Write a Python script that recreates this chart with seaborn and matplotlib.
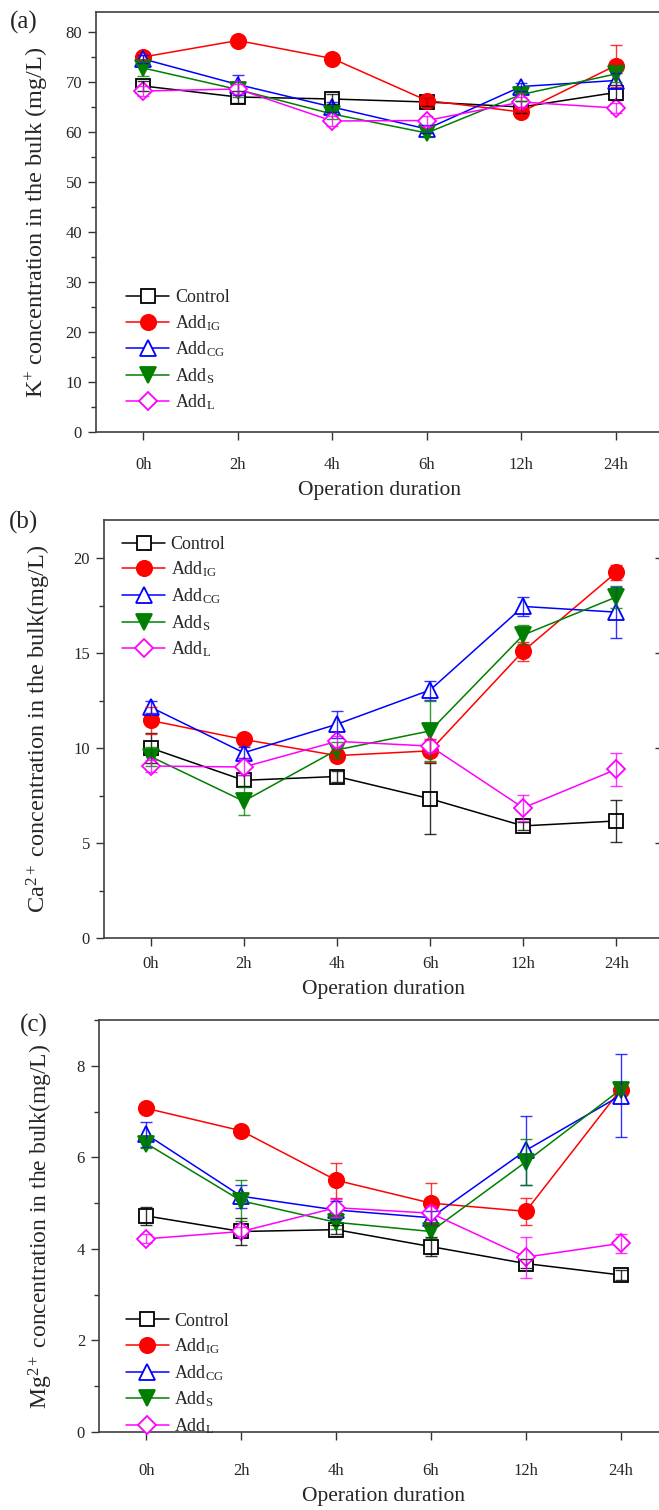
import numpy as np
import pandas as pd
import matplotlib
matplotlib.use("Agg")
import matplotlib.pyplot as plt
import seaborn as sns
from matplotlib.ticker import MultipleLocator

# ---------------- data ----------------
times = ["0h", "2h", "4h", "6h", "12h", "24h"]
series = ["Control", "IG", "CG", "S", "L"]
legend_labels = ["Control", "Add$_{\\mathregular{IG}}$", "Add$_{\\mathregular{CG}}$",
                 "Add$_{\\mathregular{S}}$", "Add$_{\\mathregular{L}}$"]

# (a) K+ (mg/L)
k_control = [69.2, 67.0, 66.6, 66.0, 65.0, 67.9]
k_ig = [75.0, 78.3, 74.7, 66.3, 64.0, 73.3]
k_cg = [74.6, 69.5, 65.0, 60.6, 69.1, 70.3]
k_s = [72.8, 68.5, 63.6, 59.8, 67.5, 71.6]
k_l = [68.2, 68.6, 62.2, 62.3, 66.0, 64.8]
k_control_err = [1.0, 1.2, 1.0, 0.8, 1.2, 1.5]
k_ig_err = [0.5, 0.5, 0.5, 0.6, 1.0, 4.2]
k_cg_err = [0.8, 2.0, 1.0, 0.8, 0.8, 1.5]
k_s_err = [1.5, 1.5, 1.0, 0.8, 1.2, 1.5]
k_l_err = [1.0, 1.0, 1.0, 1.0, 1.0, 1.0]

# (b) Ca2+ (mg/L)
ca_control = [10.0, 8.3, 8.5, 7.33, 5.9, 6.16]
ca_ig = [11.45, 10.45, 9.6, 9.85, 15.1, 19.25]
ca_cg = [12.15, 9.75, 11.25, 13.05, 17.45, 17.15]
ca_s = [9.55, 7.2, 9.9, 10.9, 15.95, 17.95]
ca_l = [9.05, 9.0, 10.35, 10.1, 6.85, 8.88]
ca_control_err = [0.8, 0.3, 0.3, 1.87, 0.2, 1.1]
ca_ig_err = [0.7, 0.3, 0.3, 0.6, 0.5, 0.4]
ca_cg_err = [0.3, 0.3, 0.7, 0.5, 0.5, 1.35]
ca_s_err = [0.5, 0.75, 0.4, 1.6, 0.5, 0.6]
ca_l_err = [0.3, 0.4, 0.3, 0.3, 0.7, 0.88]

# (c) Mg2+ (mg/L)
mg_control = [4.72, 4.38, 4.42, 4.05, 3.68, 3.43]
mg_ig = [7.07, 6.58, 5.5, 5.0, 4.82, 7.48]
mg_cg = [6.5, 5.15, 4.85, 4.68, 6.15, 7.35]
mg_s = [6.3, 5.05, 4.58, 4.38, 5.9, 7.48]
mg_l = [4.22, 4.38, 4.9, 4.78, 3.82, 4.12]
mg_control_err = [0.2, 0.3, 0.1, 0.2, 0.1, 0.1]
mg_ig_err = [0.1, 0.1, 0.38, 0.45, 0.3, 0.1]
mg_cg_err = [0.28, 0.25, 0.2, 0.15, 0.75, 0.9]
mg_s_err = [0.1, 0.45, 0.15, 0.15, 0.5, 0.1]
mg_l_err = [0.1, 0.1, 0.2, 0.15, 0.45, 0.2]

# ---------------- style ----------------
sns.set_theme(style="ticks")
plt.rcParams["font.family"] = ["Liberation Serif", "DejaVu Serif"]
plt.rcParams["mathtext.fontset"] = "custom"
plt.rcParams["mathtext.rm"] = "Liberation Serif"
plt.rcParams["mathtext.it"] = "Liberation Serif:italic"
plt.rcParams["mathtext.bf"] = "Liberation Serif:bold"

styles = {
    "Control": dict(color="black", marker="s", mfc="white", ms=10),
    "IG": dict(color="#ff0000", marker="o", mfc="#ff0000", ms=11),
    "CG": dict(color="#0000ff", marker="^", mfc="white", ms=11),
    "S": dict(color="#007f00", marker="v", mfc="#007f00", ms=11),
    "L": dict(color="#ff00ff", marker="D", mfc="white", ms=9),
}

W, H = 659, 1510
fig = plt.figure(figsize=(W / 100, H / 100), dpi=100)


def add_ax(l, r, t, b):
    return fig.add_axes([l / W, 1 - b / H, (r - l) / W, (b - t) / H])


def make_df(vals, errs):
    rows = []
    for s, v, e in zip(series, vals, errs):
        for i, (t, vv, ee) in enumerate(zip(times, v, e)):
            rows.append(dict(series=s, pos=i, time=t, value=vv, err=ee))
    return pd.DataFrame(rows)


def draw_panel(ax, df, ylim, major, minor, ylabel, leg_anchor, labelpad,
               xpad, xlabelpad, ylabel_size):
    for s, lab in zip(series, legend_labels):
        st = styles[s]
        d = df[df.series == s]
        sns.lineplot(data=d, x="pos", y="value", ax=ax, color=st["color"],
                     marker=st["marker"], markersize=st["ms"],
                     markerfacecolor=st["mfc"], markeredgecolor=st["color"],
                     markeredgewidth=1.3, linewidth=1.1, errorbar=None,
                     label=lab, zorder=3)
        ax.errorbar(d["pos"], d["value"], yerr=d["err"], fmt="none",
                    ecolor=st["color"], elinewidth=1.0, capsize=4.5,
                    capthick=1.0, alpha=0.8, zorder=4)
    ax.set_xlim(-0.5, 5.5)
    ax.set_ylim(*ylim)
    ax.set_xticks(range(len(times)))
    ax.set_xticklabels(times)
    ax.yaxis.set_major_locator(MultipleLocator(major))
    ax.yaxis.set_minor_locator(MultipleLocator(minor))
    ax.tick_params(axis="both", which="major", direction="out", length=6,
                   width=1.0, color="#333333", labelsize=12, pad=4)
    ax.tick_params(axis="y", which="minor", direction="out", length=3.5,
                   width=1.0, color="#333333")
    ax.tick_params(axis="x", which="major", pad=xpad)
    for sp in ax.spines.values():
        sp.set_color("#404040")
        sp.set_linewidth(1.2)
    ax.set_xlabel("Operation duration", fontsize=15.5, labelpad=xlabelpad)
    ax.set_ylabel(ylabel, fontsize=ylabel_size, labelpad=labelpad)
    h, l = ax.get_legend_handles_labels()
    ax.legend(h, l, loc="upper left", bbox_to_anchor=leg_anchor, frameon=False,
              fontsize=13, handlelength=2.4, handletextpad=0.3,
              labelspacing=0.38, borderpad=0, borderaxespad=0, numpoints=1)


ax_a = add_ax(96, 663, 12, 432)
ax_b = add_ax(104, 663, 520, 938)
ax_c = add_ax(99, 668, 1020, 1432)

df_a = make_df([k_control, k_ig, k_cg, k_s, k_l],
               [k_control_err, k_ig_err, k_cg_err, k_s_err, k_l_err])
df_b = make_df([ca_control, ca_ig, ca_cg, ca_s, ca_l],
               [ca_control_err, ca_ig_err, ca_cg_err, ca_s_err, ca_l_err])
df_c = make_df([mg_control, mg_ig, mg_cg, mg_s, mg_l],
               [mg_control_err, mg_ig_err, mg_cg_err, mg_s_err, mg_l_err])

draw_panel(ax_a, df_a, (0, 84), 10, 5,
           "K$^{\\mathregular{+}}$ concentration in the bulk (mg/L)",
           (0.053, 0.34), 11, 12, 6, 17.5)
draw_panel(ax_b, df_b, (0, 22), 5, 2.5,
           "Ca$^{\\mathregular{2+}}$ concentration in the bulk(mg/L)",
           (0.032, 0.962), 15, 7, 6, 17.5)
draw_panel(ax_c, df_c, (0, 9), 2, 1,
           "Mg$^{\\mathregular{2+}}$ concentration in the bulk(mg/L)",
           (0.047, 0.29), 16, 16, 6, 17)

# right-hand inner ticks on panel (b)
sec = ax_b.secondary_yaxis("right")
sec.set_yticks([5, 10, 15, 20])
sec.tick_params(direction="in", length=6, width=1.0, color="#333333",
                labelright=False)
sec.spines["right"].set_visible(False)

fig.text(10 / W, 1 - 22 / H, "(a)", fontsize=18, va="center", ha="left")
fig.text(9 / W, 1 - 522 / H, "(b)", fontsize=18, va="center", ha="left")
fig.text(20 / W, 1 - 1025 / H, "(c)", fontsize=18, va="center", ha="left")

fig.savefig("out.png", dpi=100)
